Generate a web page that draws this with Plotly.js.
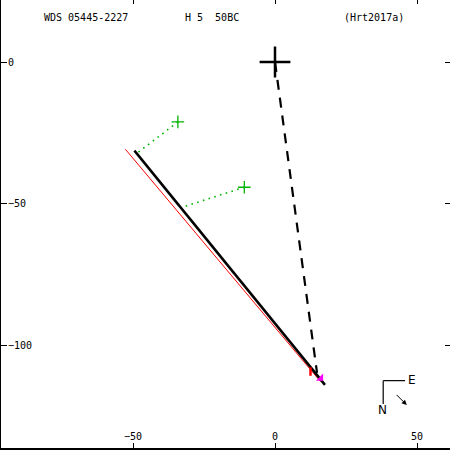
<!DOCTYPE html>
<html><head><meta charset="utf-8">
<script src="https://cdn.plot.ly/plotly-3.0.1.min.js"></script>
<style>html,body{margin:0;padding:0;background:#fff;overflow:hidden}#plot{width:450px;height:450px}</style>
</head><body><div id="plot"></div>
<script>
// Data
const primaryX = [0];
const primaryY = [0];
const orbitX = [-49.5, 17.6];
const orbitY = [-31.2, -113.7];
const redLineX = [-52.7, 16.0];
const redLineY = [-30.7, -112.5];
const dashX = [0, 14.8];
const dashY = [0, -109.5];
const obsX = [-34.2, -10.8];
const obsY = [-21.1, -44.1];
const obsFootX = [-48.3, -31.9];
const obsFootY = [-31.9, -50.9];
const redMarkX = [12.5];
const redMarkY = [-109.0];
const magX = [16.1];
const magY = [-111.4];
const xTicks = [-50, 0, 50];
const yTicks = [0, -50, -100];
const titleLeft = 'WDS 05445-2227';
const titleMid = 'H 5  50BC';
const titleRight = '(Hrt2017a)';

const font = {family: 'DejaVu Sans Mono, monospace', size: 10, color: '#000'};
const traces = [];
for (let i = 0; i < obsX.length; i++) {
  traces.push({x: [obsX[i], obsFootX[i]], y: [obsY[i], obsFootY[i]], mode: 'lines',
    line: {color: '#00b400', width: 1.6, dash: '1.6px,4.4px'}, hoverinfo: 'skip'});
}
traces.push({x: redLineX, y: redLineY, mode: 'lines', line: {color: '#ff0000', width: 1}});
traces.push({x: orbitX, y: orbitY, mode: 'lines', line: {color: '#000', width: 2.5}});
traces.push({x: dashX, y: dashY, mode: 'lines', line: {color: '#000', width: 2.2, dash: '10px,8px'}});
traces.push({x: obsX, y: obsY, mode: 'markers', marker: {symbol: 'cross-thin', size: 9, line: {color: '#00b400', width: 1.3}}});
traces.push({x: primaryX, y: primaryY, mode: 'markers', marker: {symbol: 'cross-thin', size: 22, line: {color: '#000', width: 2.5}}});
traces.push({x: redMarkX, y: redMarkY, mode: 'markers', marker: {symbol: 'line-ns', size: 6, line: {color: '#ff0000', width: 2.5}}});
traces.push({x: magX, y: magY, mode: 'markers', marker: {symbol: 'triangle-se', size: 8, color: '#ff00ff'}});

const xr = [-96.48, 61.62];
const yr = [-135.92, 21.83];
const compassFont = {family: 'DejaVu Sans', size: 12, color: '#000'};
const layout = {
  width: 450, height: 450,
  margin: {l: 1, r: 0, t: 0, b: 2},
  paper_bgcolor: '#fff', plot_bgcolor: '#fff',
  showlegend: false,
  font: font,
  xaxis: {range: xr, tickvals: xTicks, ticks: 'inside', ticklen: 5, tickcolor: '#000', tickwidth: 1,
    ticklabelposition: 'inside', showgrid: false, zeroline: false, showline: true, linecolor: '#000', linewidth: 2,
    tickfont: font, fixedrange: true},
  yaxis: {range: yr, tickvals: yTicks, ticks: 'inside', ticklen: 6, tickcolor: '#000', tickwidth: 1,
    ticklabelposition: 'inside', showgrid: false, zeroline: false, showline: true, linecolor: '#000', linewidth: 2,
    tickfont: font, fixedrange: true},
  xaxis2: {range: xr, tickvals: xTicks, overlaying: 'x', side: 'top', ticks: 'inside', ticklen: 4, tickcolor: '#000',
    showticklabels: false, showgrid: false, zeroline: false, showline: false},
  yaxis2: {range: yr, tickvals: yTicks, overlaying: 'y', side: 'right', ticks: 'inside', ticklen: 5, tickcolor: '#000',
    showticklabels: false, showgrid: false, zeroline: false, showline: false},
  annotations: [
    {xref: 'paper', yref: 'paper', x: 0.189, y: 0.962, xanchor: 'center', yanchor: 'middle', text: titleLeft, showarrow: false, font: font},
    {xref: 'paper', yref: 'paper', x: 0.47, y: 0.962, xanchor: 'center', yanchor: 'middle', text: titleMid, showarrow: false, font: font},
    {xref: 'paper', yref: 'paper', x: 0.831, y: 0.962, xanchor: 'center', yanchor: 'middle', text: titleRight, showarrow: false, font: font},
    {xref: 'x', yref: 'y', x: 48.4, y: -112, xanchor: 'center', yanchor: 'middle', text: 'E', showarrow: false, font: compassFont},
    {xref: 'x', yref: 'y', x: 38.0, y: -122.6, xanchor: 'center', yanchor: 'middle', text: 'N', showarrow: false, font: compassFont},
    {xref: 'x', yref: 'y', x: 46.4, y: -120.8, ax: 42.3, ay: -116.7, axref: 'x', ayref: 'y', text: '',
      showarrow: true, arrowhead: 2, arrowsize: 1, arrowwidth: 1, arrowcolor: '#000'}
  ],
  shapes: [
    {type: 'line', xref: 'x', yref: 'y', x0: 38.1, y0: -112.2, x1: 45.8, y1: -112.2, line: {color: '#000', width: 1.2}},
    {type: 'line', xref: 'x', yref: 'y', x0: 38.1, y0: -112.2, x1: 38.1, y1: -120.4, line: {color: '#000', width: 1.2}}
  ]
};
traces.push({x: [xr[0]], y: [yr[0]], xaxis: 'x2', yaxis: 'y2', mode: 'markers', marker: {opacity: 0}, hoverinfo: 'skip'});
Plotly.newPlot('plot', traces, layout, {staticPlot: true, displayModeBar: false});
</script></body></html>
